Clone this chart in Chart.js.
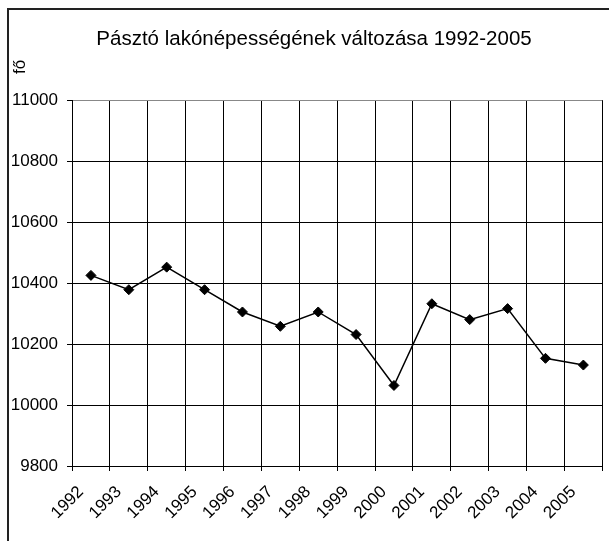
<!DOCTYPE html>
<html>
<head>
<meta charset="utf-8">
<script src="https://cdn.jsdelivr.net/npm/chart.js@4/dist/chart.umd.min.js"></script>
<style>
	html, body { margin: 0; padding: 0; background: #fff; }
	#chartbox { width: 609px; height: 541px; }
</style>
</head>
<body>
<div id="chartbox"><canvas id="chart" width="609" height="541"></canvas></div>
<script>
//chart data
var years = [ "1992", "1993", "1994", "1995", "1996", "1997", "1998", "1999", "2000", "2001", "2002", "2003", "2004", "2005" ];
var population = [ 10425, 10378, 10452, 10378, 10305, 10258, 10305, 10231, 10064, 10332, 10280, 10316, 10153, 10131 ];
var yMin = 9800, yMax = 11000, yStep = 200;
var chartTitle = "Pásztó lakónépességének változása 1992-2005";
var unitLabel = "fő";

var fontName = "'Liberation Sans', Arial, sans-serif";

//frame around the chart, the title and the rotated unit label
var extrasPlugin = {
	id: "extras",
	afterDraw: function( chart ){
		var ctx = chart.ctx;
		ctx.save();
		ctx.strokeStyle = "#222";
		ctx.lineWidth = 2;
		ctx.beginPath();
		ctx.moveTo( 8, 545 );
		ctx.lineTo( 8, 9 );
		ctx.lineTo( 612, 9 );
		ctx.stroke();

		//title, centred a bit right of the canvas middle like the original
		ctx.fillStyle = "#000";
		ctx.font = "20.5px " + fontName;
		ctx.textAlign = "center";
		ctx.textBaseline = "alphabetic";
		ctx.fillText( chartTitle, 314, 45 );

		ctx.translate( 20, 67 );
		ctx.rotate( -Math.PI / 2 );
		ctx.font = "17px " + fontName;
		ctx.textBaseline = "middle";
		ctx.fillText( unitLabel, 0, 0 );
		ctx.restore();
	}
};

var ctx = document.getElementById("chart").getContext('2d');
var lineChart = new Chart( ctx, {
	type: 'line',
	data: {
		labels: years,
		datasets: [{
			data: population,
			borderColor: "#000",
			borderWidth: 1.5,
			backgroundColor: "#000",
			pointStyle: "rectRot",
			pointRadius: 5,
			pointBorderWidth: 1,
			pointBackgroundColor: "#000",
			pointBorderColor: "#000",
			tension: 0
		}]
	},
	options: {
		responsive: false,
		animation: false,
		layout: { padding: { left: 0, right: 4, top: 100, bottom: 0 } },
		plugins: {
			legend: { display: false },
			tooltip: { enabled: false },
			title: { display: false }
		},
		scales: {
			x: {
				offset: true,
				grid: {
					offset: true,
					color: function( c ){ return c.index == years.length ? "#888" : "#000"; },
					lineWidth: 1,
					tickLength: 5,
					tickColor: "#000"
				},
				border: { color: "#000", width: 1 },
				ticks: {
					color: "#000",
					font: { family: fontName, size: 17 },
					minRotation: 45,
					maxRotation: 45,
					autoSkip: false,
					padding: 11,
					labelOffset: -10
				},
				afterFit: function( scale ){ scale.height = 75; }
			},
			y: {
				min: yMin,
				max: yMax,
				grid: {
					color: function( c ){ return c.tick && c.tick.value == yMax ? "#888" : "#000"; },
					lineWidth: 1,
					tickLength: 5,
					tickColor: "#000"
				},
				border: { color: "#000", width: 1 },
				ticks: {
					stepSize: yStep,
					color: "#000",
					font: { family: fontName, size: 17 },
					padding: 9,
					callback: function( value ){ return String( value ); }
				},
				afterFit: function( scale ){ scale.width = 72; }
			}
		}
	},
	plugins: [ extrasPlugin ]
});
</script>
</body>
</html>
